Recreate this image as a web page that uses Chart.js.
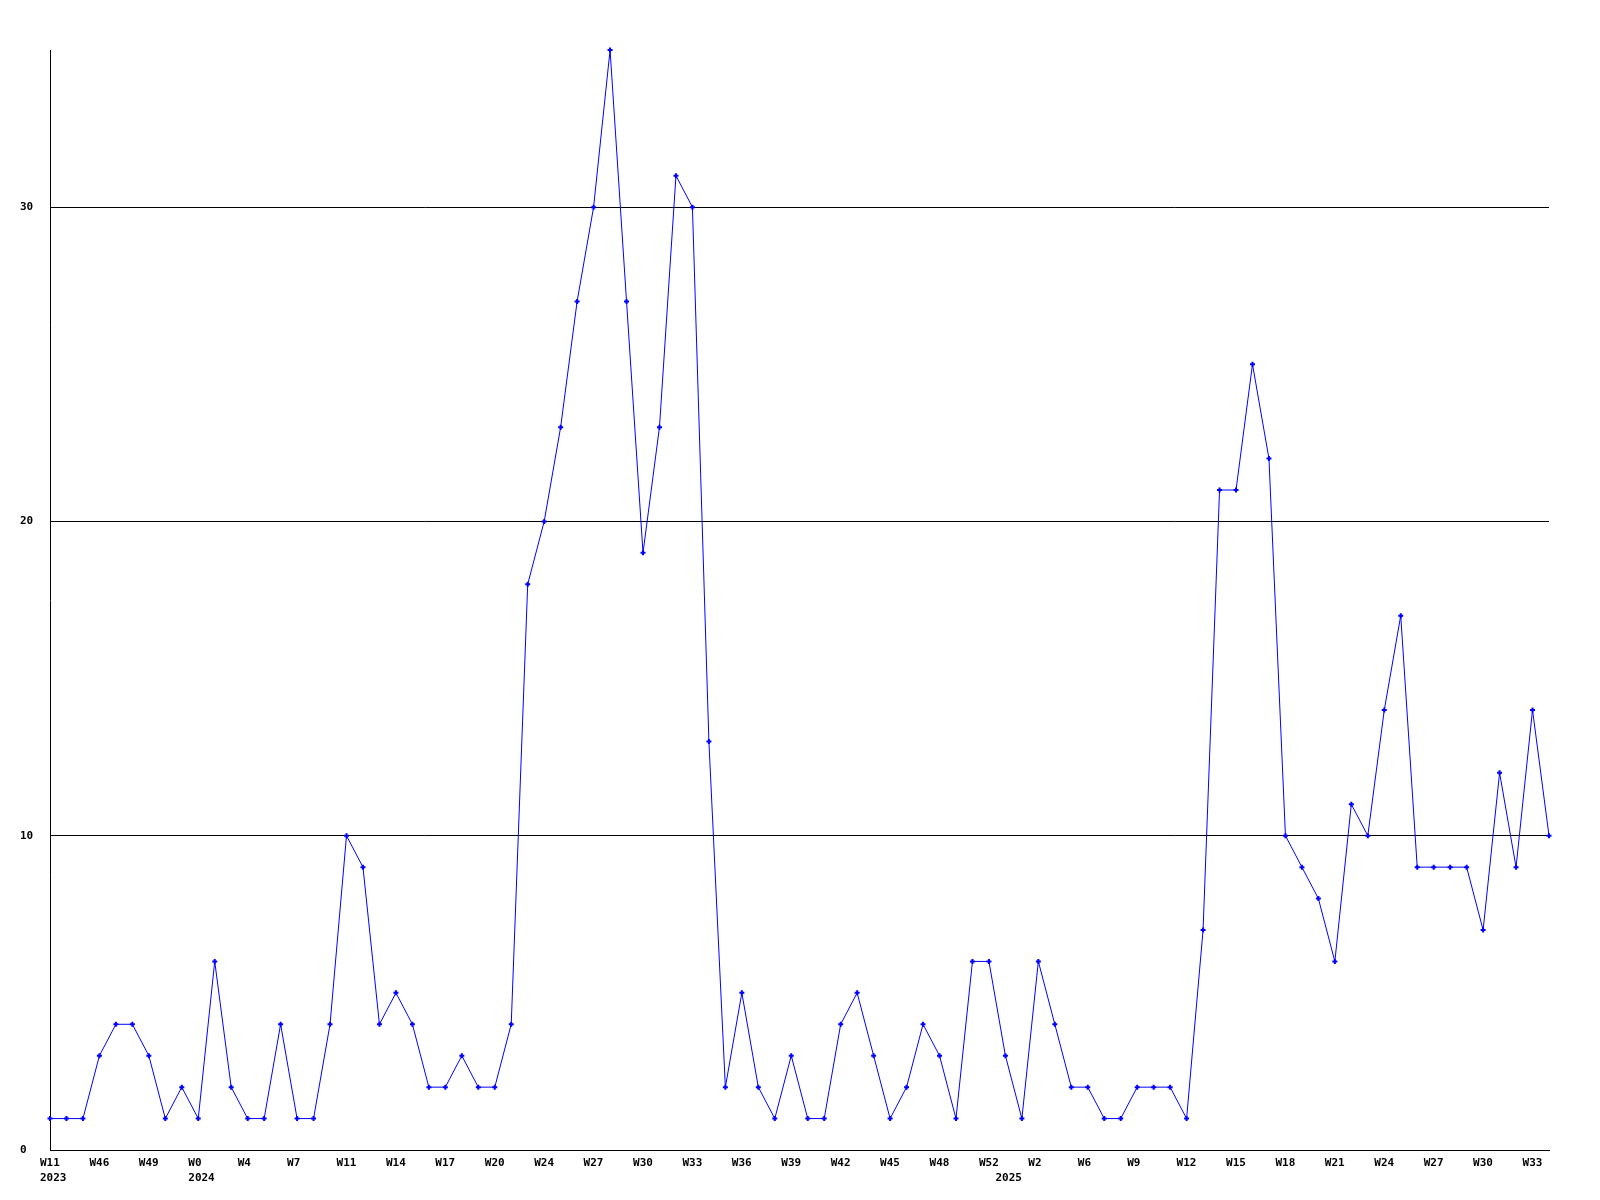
<!DOCTYPE html>
<html>
<head>
<meta charset="utf-8">
<script src="https://cdn.jsdelivr.net/npm/chart.js@4"></script>
<style>
  html, body { margin: 0; padding: 0; background: #fff; }
  canvas { display: block; }
</style>
</head>
<body>
<canvas id="weekly" width="1600" height="1200"></canvas>
<script>
// weekly counts, one per point
const counts = [
  1, 1, 1, 3, 4, 4, 3, 1, 2, 1,
  6, 2, 1, 1, 4, 1, 1, 4, 10, 9,
  4, 5, 4, 2, 2, 3, 2, 2, 4, 18,
  20, 23, 27, 30, 35, 27, 19, 23, 31, 30,
  13, 2, 5, 2, 1, 3, 1, 1, 4, 5,
  3, 1, 2, 4, 3, 1, 6, 6, 3, 1,
  6, 4, 2, 2, 1, 1, 2, 2, 2, 1,
  7, 21, 21, 25, 22, 10, 9, 8, 6, 11,
  10, 14, 17, 9, 9, 9, 9, 7, 12, 9,
  14, 10
];

// every third point carries a week label
const weekTicks = [
  "W11", "W46", "W49", "W0", "W4", "W7", "W11", "W14", "W17", "W20",
  "W24", "W27", "W30", "W33", "W36", "W39", "W42", "W45", "W48", "W52",
  "W2", "W6", "W9", "W12", "W15", "W18", "W21", "W24", "W27", "W30", "W33"
];

// year labels, second line, keyed by point index
const yearIdx = [0, 9, 58];
const yearTicks = ["2023", "2024", "2025"];

const yTicks = [0, 10, 20, 30];

const font = { family: "'DejaVu Sans Mono', monospace", size: 11, weight: "bold", lineHeight: 1.4 };

new Chart(document.getElementById("weekly"), {
  type: "line",
  data: {
    labels: counts.map((_, i) => i),
    datasets: [{
      data: counts,
      borderColor: "#0000ff",
      backgroundColor: "#0000ff",
      borderWidth: 1,
      pointStyle: "cross",
      pointRadius: 2.5,
      pointBorderWidth: 2,
      tension: 0,
      fill: false,
      clip: false
    }]
  },
  options: {
    responsive: false,
    animation: false,
    layout: { padding: { top: 50, left: 20, right: 51, bottom: 0 } },
    plugins: { legend: { display: false }, tooltip: { enabled: false } },
    scales: {
      x: {
        type: "category",
        offset: false,
        grid: { display: false, drawTicks: false },
        border: { display: true, color: "#000", width: 1 },
        afterFit: s => { s.height = 50; },
        ticks: {
          autoSkip: false,
          maxRotation: 0,
          minRotation: 0,
          align: "start",
          labelOffset: -10,
          padding: 5,
          color: "#000",
          font: font,
          callback: (v, i) => {
            const w = i % 3 === 0 ? weekTicks[i / 3] : null;
            const k = yearIdx.indexOf(i);
            if (k >= 0) return [w || "", yearTicks[k]];
            return w;
          }
        }
      },
      y: {
        min: 0,
        max: 35,
        grid: { color: "#000", lineWidth: 1, drawTicks: false },
        border: { display: true, color: "#000", width: 1 },
        afterFit: s => { s.width = 30; },
        afterBuildTicks: s => { s.ticks = yTicks.map(v => ({ value: v })); },
        ticks: {
          crossAlign: "far",
          padding: 0,
          color: "#000",
          font: font,
          callback: v => v
        }
      }
    }
  }
});
</script>
</body>
</html>
